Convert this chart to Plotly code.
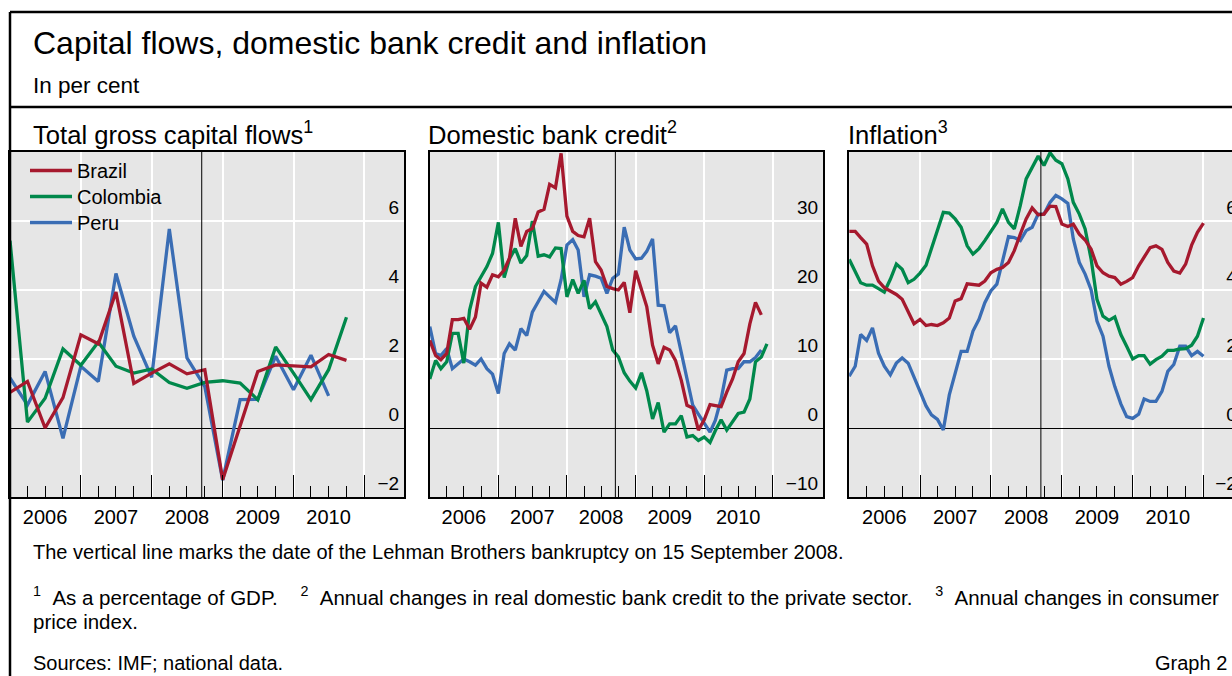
import plotly.graph_objects as go
import pandas as pd

# ---------------- data ----------------
countries = ["Brazil", "Colombia", "Peru"]
years = ["2006", "2007", "2008", "2009", "2010"]

# Total gross capital flows (% of GDP), quarterly from 2006 Q1
flow_dates = pd.date_range("2006-01-01", periods=20, freq="QS")
flows_brazil = [1.03, 1.35, 0.00, 0.88, 2.70, 2.44, 3.94, 1.29, 1.59, 1.86,
                1.57, 1.69, -1.50, 0.09, 1.64, 1.83, 1.81, 1.77, 2.13, 1.96]
flows_colombia = [5.43, 0.17, 0.86, 2.29, 1.82, 2.49, 1.79, 1.59, 1.71, 1.32,
                  1.15, 1.32, 1.37, 1.30, 0.82, 2.35, 1.59, 0.82, 1.69, 3.21]
flows_peru = [1.45, 0.67, 1.64, -0.30, 1.79, 1.35, 4.48, 2.66, 1.47, 5.77,
              2.03, 1.20, -1.51, 0.82, 0.83, 2.08, 1.11, 2.11, 0.93]

# Domestic bank credit (annual % change, real), monthly from Jan 2006
credit_brazil = [12.7, 10.5, 9.9, 10.8, 15.7, 15.7, 15.9, 14.3, 16.1, 21.0,
                 20.4, 22.2, 21.9, 22.9, 24.6, 30.4, 26.3, 28.5, 28.9, 31.3,
                 31.7, 35.3, 34.8, 39.8, 30.7, 28.5, 27.9, 27.7, 30.4, 24.1,
                 22.9, 20.5, 20.2, 20.0, 21.1, 16.7, 22.8, 20.2, 17.6, 12.0,
                 9.3, 11.7, 11.3, 9.8, 6.9, 3.3, 2.9, -0.3, 1.2, 3.4,
                 3.3, 3.1, 5.2, 7.1, 9.6, 10.8, 15.1, 18.2, 16.4]
credit_colombia = [7.1, 9.8, 8.6, 9.6, 13.7, 13.7, 9.4, 17.1, 20.5, 21.9,
                   23.4, 25.3, 29.8, 21.8, 24.5, 26.0, 23.9, 25.0, 30.0, 24.9,
                   25.1, 24.8, 26.1, 26.0, 19.0, 21.5, 19.5, 21.4, 17.3, 18.3,
                   16.4, 14.7, 11.3, 10.3, 8.0, 6.8, 5.8, 8.0, 5.4, 1.3,
                   3.7, -0.6, 0.6, 0.6, 1.8, -1.3, -1.1, -1.8, -1.3, -2.1,
                   -0.4, 1.2, -0.3, 1.0, 2.1, 2.3, 4.2, 9.6, 10.3, 12.2]
credit_peru = [14.7, 10.8, 10.5, 11.5, 8.6, 9.3, 10.0, 9.6, 9.1, 10.0,
               8.6, 7.8, 5.0, 10.8, 12.2, 11.3, 14.4, 13.4, 16.8, 18.3,
               19.8, 19.0, 18.2, 21.5, 26.5, 27.3, 25.8, 19.0, 22.2, 22.0,
               21.7, 19.5, 21.7, 22.3, 29.1, 25.8, 24.5, 24.6, 25.6, 27.4,
               17.8, 17.7, 13.8, 14.8, 11.0, 7.4, 3.3, 2.0, 0.8, -0.6,
               1.1, 4.2, 8.4, 8.6, 8.6, 9.6, 9.6, 10.2, 11.3]

# Inflation (annual % change in CPI), monthly from Jan 2006
infl_brazil = [5.70, 5.70, 5.52, 5.33, 4.70, 4.26, 4.07, 3.97, 3.87, 3.73,
               3.34, 3.02, 3.15, 2.97, 3.00, 2.97, 3.05, 3.19, 3.68, 3.75,
               4.18, 4.17, 4.14, 4.26, 4.50, 4.60, 4.65, 4.80, 5.14, 5.62,
               6.06, 6.38, 6.18, 6.20, 6.43, 6.42, 5.91, 5.84, 5.91, 5.62,
               5.45, 5.18, 4.70, 4.50, 4.40, 4.36, 4.17, 4.25, 4.36, 4.70,
               4.94, 5.23, 5.28, 5.18, 4.80, 4.55, 4.49, 4.75, 5.30, 5.67,
               5.94]
infl_colombia = [4.89, 4.55, 4.21, 4.14, 4.14, 4.04, 3.94, 4.31, 4.75, 4.60,
                 4.21, 4.31, 4.49, 4.72, 5.18, 5.69, 6.25, 6.23, 6.06, 5.82,
                 5.28, 5.04, 5.20, 5.43, 5.69, 5.96, 6.35, 5.96, 5.77, 6.45,
                 7.22, 7.56, 7.88, 7.61, 7.98, 7.76, 7.66, 7.22, 6.54, 6.20,
                 5.77, 4.89, 3.73, 3.24, 3.12, 3.22, 2.71, 2.37, 2.00, 2.10,
                 2.10, 1.85, 1.98, 2.08, 2.25, 2.25, 2.29, 2.30, 2.40, 2.66,
                 3.19]
infl_peru = [1.50, 1.79, 2.71, 2.54, 2.90, 2.17, 1.79, 1.54, 1.88, 2.03,
             1.88, 1.50, 1.06, 0.64, 0.38, 0.25, -0.06, 0.96, 1.59, 2.22,
             2.22, 2.81, 3.15, 3.63, 3.97, 4.17, 4.83, 5.55, 5.52, 5.43,
             5.72, 5.82, 6.20, 6.20, 6.54, 6.74, 6.64, 6.51, 5.48, 4.80,
             4.46, 4.00, 3.10, 2.66, 1.79, 1.20, 0.70, 0.33, 0.28, 0.40,
             0.84, 0.77, 0.77, 1.06, 1.64, 1.84, 2.37, 2.37, 2.10, 2.22,
             2.08]

lehman_date = "2008-09-15"

# ---------------- styling / layout ----------------
W, H = 1232, 676
FONT = "Arial, Liberation Sans, Helvetica, sans-serif"
COLORS = {"Brazil": "#A6192E", "Colombia": "#00884B", "Peru": "#3A6DB4"}
BG = "#E6E6E6"


def px(x):
    """window x pixel -> paper fraction"""
    return x / W


def py(y):
    """window y pixel -> paper fraction"""
    return 1 - y / H


def months(n):
    return pd.date_range("2006-01-01", periods=n, freq="MS")


def end_date(years_span):
    return (pd.Timestamp("2006-01-01") + pd.Timedelta(days=365.25 * years_span)).strftime("%Y-%m-%d")


panels = [
    dict(series={"Brazil": (flow_dates[:len(flows_brazil)], flows_brazil),
                 "Colombia": (flow_dates[:len(flows_colombia)], flows_colombia),
                 "Peru": (flow_dates[:len(flows_peru)], flows_peru)},
         dom=(px(10), px(404.3)), span=(404.3 - 10.2) / 70.83, standoff=5,
         yr=(-2, 8), ystep=2, title="Total gross capital flows<sup>1</sup>", tx=31),
    dict(series={"Brazil": (months(len(credit_brazil)), credit_brazil),
                 "Colombia": (months(len(credit_colombia)), credit_colombia),
                 "Peru": (months(len(credit_peru)), credit_peru)},
         dom=(px(429.8), px(823.3)), span=(823.3 - 429.8) / 68.58, standoff=5,
         yr=(-10, 40), ystep=10, title="Domestic bank credit<sup>2</sup>", tx=426),
    # the reference crops this panel at the window edge (its frame ends ~11px further right)
    dict(series={"Brazil": (months(len(infl_brazil)), infl_brazil),
                 "Colombia": (months(len(infl_colombia)), infl_colombia),
                 "Peru": (months(len(infl_peru)), infl_peru)},
         dom=(px(849.2), 1.0), span=(1232 - 849.2) / 70.83, standoff=-5,
         yr=(-2, 8), ystep=2, title="Inflation<sup>3</sup>", tx=846),
]

ydom = [py(497), py(152)]
year_ticks = [f"{y}-01-01" for y in range(2006, 2012)]
quarter_ticks = [d.strftime("%Y-%m-%d") for d in pd.date_range("2006-01-01", "2011-01-01", freq="QS")
                 if d.month != 1]
mid_ticks = [f"{y}-07-01" for y in years]

legend_ids = {"Brazil": "legend", "Colombia": "legend2", "Peru": "legend3"}
legend_top = {"Brazil": 151, "Colombia": 177, "Peru": 203}

fig = go.Figure()
layout = dict(
    template="none",
    width=W, height=H, autosize=False,
    margin=dict(l=0, r=0, t=0, b=0, pad=0),
    paper_bgcolor="white", plot_bgcolor=BG,
    font=dict(family=FONT, size=20, color="black"),
    showlegend=True,
)
for c in countries:
    layout[legend_ids[c]] = dict(x=px(25), y=py(legend_top[c]), xanchor="left", yanchor="top",
                                 bgcolor="rgba(0,0,0,0)", borderwidth=0,
                                 font=dict(size=20, color="black"), itemwidth=42)

shapes = []
annotations = []

for i, p in enumerate(panels):
    n = i + 1
    xa = "x" if n == 1 else f"x{n}"
    ya = "y" if n == 1 else f"y{n}"
    ov = f"x{n + 3}"
    rng = ["2006-01-01", end_date(p["span"])]

    for c in ["Peru", "Colombia", "Brazil"]:
        xs, ys = p["series"][c]
        fig.add_trace(go.Scatter(
            x=list(xs), y=ys, mode="lines", name=c,
            line=dict(color=COLORS[c], width=3.3),
            xaxis=xa, yaxis=ya, showlegend=(n == 1), legend=legend_ids[c],
            hoverinfo="skip"))
    # invisible trace hosting the year-label axis
    fig.add_trace(go.Scatter(x=[], y=[], xaxis=ov, yaxis=ya, showlegend=False,
                             hoverinfo="skip"))

    axis_line = dict(showline=True, mirror=True, linecolor="black", linewidth=2)
    layout["xaxis" if n == 1 else f"xaxis{n}"] = dict(
        domain=list(p["dom"]), anchor=ya, type="date", range=rng,
        tickmode="array", tickvals=year_ticks, showticklabels=False,
        ticks="inside", ticklen=22, tickwidth=1.2, tickcolor="black",
        showgrid=True, gridcolor="white", gridwidth=1.5, zeroline=False,
        minor=dict(tickmode="array", tickvals=quarter_ticks, ticks="inside",
                   ticklen=11, tickwidth=1.2, tickcolor="black", showgrid=False),
        fixedrange=True, **axis_line)
    layout[f"xaxis{n + 3}"] = dict(
        overlaying=xa, anchor=ya, side="bottom", type="date", range=rng,
        tickmode="array", tickvals=mid_ticks, ticktext=years, ticks="",
        showgrid=False, showline=False, zeroline=False,
        tickfont=dict(size=20, color="black"), ticklabelstandoff=6, fixedrange=True)

    y0, y1 = p["yr"]
    yvals = list(range(y0, y1, p["ystep"]))
    ytext = [("\u2212" + str(abs(v))) if v < 0 else str(v) for v in yvals]
    layout["yaxis" if n == 1 else f"yaxis{n}"] = dict(
        domain=ydom, anchor=xa, range=[y0, y1], side="right",
        tickmode="array", tickvals=yvals, ticktext=ytext,
        ticks="", ticklabelposition="inside top", ticklabelstandoff=p["standoff"],
        tickfont=dict(size=19, color="black"),
        showgrid=True, gridcolor="white", gridwidth=1.5,
        zeroline=True, zerolinecolor="black", zerolinewidth=1,
        fixedrange=True, **axis_line)

    shapes.append(dict(type="line", xref=xa, yref=f"{ya} domain",
                       x0=lehman_date, x1=lehman_date, y0=0, y1=1,
                       line=dict(color="black", width=1), layer="above"))

    annotations.append(dict(text=p["title"], x=px(p["tx"]), y=py(133), xref="paper", yref="paper",
                            xanchor="left", yanchor="middle", showarrow=False,
                            font=dict(size=25.6)))

# frame lines
frame = dict(color="black", width=2.5)
shapes += [
    dict(type="line", xref="paper", yref="paper", x0=px(10), x1=1.05, y0=py(12), y1=py(12), line=frame),
    dict(type="line", xref="paper", yref="paper", x0=px(10), x1=px(10), y0=py(12), y1=-0.05, line=frame),
    dict(type="line", xref="paper", yref="paper", x0=px(10), x1=1.05, y0=py(107), y1=py(107), line=frame),
]

NB = "\u00a0"
texts = [
    ("Capital flows, domestic bank credit and inflation", 31, 43, 32, "left"),
    ("In per cent", 31, 85, 22.5, "left"),
    ("The vertical line marks the date of the Lehman Brothers bankruptcy on 15 September 2008.", 31, 552, 20, "left"),
    ("<sup>1</sup>" + NB * 2 + "As a percentage of GDP." + NB * 4 + "<sup>2</sup>" + NB * 2 +
     "Annual changes in real domestic bank credit to the private sector." + NB * 4 +
     "<sup>3</sup>" + NB * 2 + "Annual changes in consumer", 31, 596, 20.5, "left"),
    ("price index.", 31, 621, 20.5, "left"),
    ("Sources: IMF; national data.", 31, 663, 20, "left"),
    ("Graph 2", 1229, 663, 20, "right"),
]
for t, x, y, s, anc in texts:
    annotations.append(dict(text=t, x=px(x), y=py(y), xref="paper", yref="paper",
                            xanchor=anc, yanchor="middle", showarrow=False,
                            font=dict(size=s, color="black")))

layout["shapes"] = shapes
layout["annotations"] = annotations
fig.update_layout(**layout)

# place the figure flush with the window corner (no default page margin / scrollbars)
fig.write_html("out.html", config={"displayModeBar": False},
               post_script="document.body.style.margin='0';"
                           "document.body.style.overflow='hidden';")
